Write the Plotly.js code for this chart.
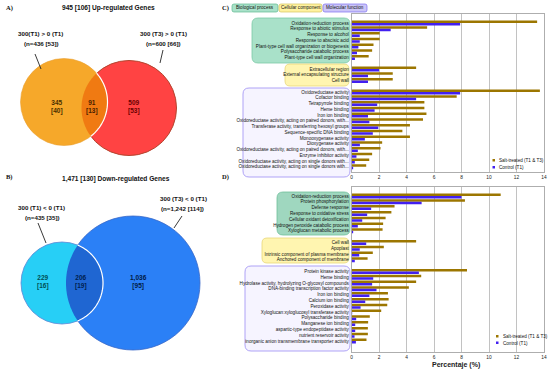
<!DOCTYPE html>
<html><head><meta charset="utf-8">
<script src="https://cdn.plot.ly/plotly-3.0.1.min.js"></script>
<style>html,body{margin:0;padding:0;background:#fff}#chart{width:550px;height:372px}</style>
</head><body><div id="chart"></div>
<script>
// ---------- Panel C data ----------
const cCategories = ['Oxidation-reduction process','Response to abiotic stimulus','Response to alcohol','Response to abscisic acid','Plant-type cell wall organization or biogenesis','Polysaccharide catabolic process','Plant-type cell wall organization',
'Extracellular region','External encapsulating structure','Cell wall',
'Oxidoreductase activity','Cofactor binding','Tetrapyrrole binding','Heme binding','Iron ion binding','Oxidoreductase activity, acting on paired donors, with...','Transferase activity, transferring hexosyl groups','Sequence-specific DNA binding','Monooxygenase activity','Dioxygenase activity','Oxidoreductase activity, acting on paired donors, with...','Enzyme inhibitor activity','Oxidoreductase activity, acting on single donors with...','Oxidoreductase activity, acting on single donors with...'];
const cGroups = [7, 3, 14];
const cSalt = [13.5,5.5,2.05,2.05,1.6,1.5,1.25, 4.7,3.0,3.0, 13.7,7.65,5.3,5.3,5.45,5.2,4.25,3.7,4.25,2.23,2.11,1.5,1.29,1.07];
const cControl = [7.9,2.85,0.6,0.6,0.5,0.4,0.25, 2.0,1.2,1.2, 7.9,4.7,1.87,1.68,1.2,1.3,1.95,1.55,0.97,0.61,0.46,0.36,0.24,0.12];

// ---------- Panel D data ----------
const dCategories = ['Oxidation-reduction process','Protein phosphorylation','Defense response','Response to oxidative stress','Cellular oxidant detoxification','Hydrogen peroxide catabolic process','Xyloglucan metabolic process',
'Cell wall','Apoplast','Intrinsic component of plasma membrane','Anchored component of membrane',
'Protein kinase activity','Heme binding','Hydrolase activity, hydrolyzing O-glycosyl compounds','DNA-binding transcription factor activity','Iron ion binding','Calcium ion binding','Peroxidase activity','Xyloglucan:xyloglucosyl transferase activity','Polysaccharide binding','Manganese ion binding','aspartic-type endopeptidase activity','nutrient reservoir activity','inorganic anion transmembrane transporter activity'];
const dGroups = [7, 4, 13];
const dSalt = [10.85,8.25,3.13,2.9,2.48,2.3,2.26, 4.7,2.35,1.55,1.17, 8.4,5.07,4.7,4.17,2.65,2.7,2.6,2.16,1.33,1.21,1.19,1.19,1.09];
const dControl = [8.0,5.1,1.43,1.14,0.78,0.46,0.12, 1.07,0.6,0.56,0.24, 4.9,1.58,1.5,1.82,1.3,1.0,0.66,0.05,0.34,0.27,0.27,0.22,0.32];

const seriesNames = ['Salt-treated (T1 & T3)', 'Control (T1)'];
const groupNames = ['Biological process', 'Cellular component', 'Molecular function'];
const xTickVals = [0, 2, 4, 6, 8, 10, 12, 14];
const xTitle = 'Percentaje (%)';

// ---------- Venn data ----------
const vennUpTitle = '945 [106] Up-regulated Genes';
const vennUpSets = ['300(T1) > 0 (T1)', '300 (T3) > 0 (T1)'];
const vennUpTotals = ['(n=436 [53])', '(n=600 [66])'];
const vennUpCounts = ['345', '91', '509'];
const vennUpSub = ['[40]', '[13]', '[53]'];
const vennDownTitle = '1,471 [130] Down-regulated Genes';
const vennDownSets = ['300 (T1) < 0 (T1)', '300 (T3) < 0 (T1)'];
const vennDownTotals = ['(n=435 [35])', '(n=1,242 [114])'];
const vennDownCounts = ['229', '206', '1,036'];
const vennDownSub = ['[16]', '[19]', '[95]'];

// ---------- helpers ----------
const W = 550, H = 372;
const px = x => x / W, py = y => 1 - y / H;
function rowPos(groups){ const p=[]; let i=0; groups.forEach(n=>{ for(let k=0;k<n;k++) p.push(i++); i++; }); return p; }
function rr(x0,y0,x1,y1,r){
  const P=(x,y)=>px(x)+','+py(y);
  return 'M'+P(x0+r,y0)+' L'+P(x1-r,y0)+' Q'+P(x1,y0)+' '+P(x1,y0+r)+' L'+P(x1,y1-r)+' Q'+P(x1,y1)+' '+P(x1-r,y1)+
    ' L'+P(x0+r,y1)+' Q'+P(x0,y1)+' '+P(x0,y1-r)+' L'+P(x0,y0+r)+' Q'+P(x0,y0)+' '+P(x0+r,y0)+' Z';
}
function lens(c1,c2,n){
  const dx=c2.x-c1.x, dy=c2.y-c1.y, d=Math.hypot(dx,dy);
  const a=(c1.r*c1.r-c2.r*c2.r+d*d)/(2*d);
  const phi=Math.atan2(dy,dx), a1=Math.acos(a/c1.r), a2=Math.acos((d-a)/c2.r);
  const pts=[], arc1=[];
  for(let i=0;i<=n;i++){ const t=phi-a1+2*a1*i/n; const q=[c1.x+c1.r*Math.cos(t), c1.y+c1.r*Math.sin(t)]; pts.push(q); arc1.push(q); }
  for(let i=0;i<=n;i++){ const t=phi+Math.PI-a2+2*a2*i/n; pts.push([c2.x+c2.r*Math.cos(t), c2.y+c2.r*Math.sin(t)]); }
  const toPath=(arr,close)=>'M'+arr.map(p=>p[0].toFixed(2)+','+p[1].toFixed(2)).join(' L')+(close?' Z':'');
  return {fill: toPath(pts,true), arc: toPath(arc1,false)};
}
function circ(c, fill, line, lw){
  return {type:'circle', xref:'x2', yref:'y2', x0:c.x-c.r, x1:c.x+c.r, y0:c.y-c.r, y1:c.y+c.r,
    fillcolor:fill, line:{color:line, width:lw}, layer:'above'};
}

const SALT='#9C7600', CTRL='#4220F0';
const labelFont = {family:'Liberation Sans Narrow, Liberation Sans, Arial, sans-serif', size:4.6, color:'#111'};
const cPos = rowPos(cGroups), dPos = rowPos(dGroups);

const traces = [
  {type:'bar', orientation:'h', name:seriesNames[0], x:cSalt, y:cPos, xaxis:'x', yaxis:'y', marker:{color:SALT}, showlegend:false, hoverinfo:'skip'},
  {type:'bar', orientation:'h', name:seriesNames[1], x:cControl, y:cPos, xaxis:'x', yaxis:'y', marker:{color:CTRL}, showlegend:false, hoverinfo:'skip'},
  {type:'bar', orientation:'h', name:seriesNames[0], x:dSalt, y:dPos, xaxis:'x3', yaxis:'y3', marker:{color:SALT}, showlegend:false, hoverinfo:'skip'},
  {type:'bar', orientation:'h', name:seriesNames[1], x:dControl, y:dPos, xaxis:'x3', yaxis:'y3', marker:{color:CTRL}, showlegend:false, hoverinfo:'skip'}
];

const xCommon = {range:[0,14], tickvals:xTickVals, ticktext:xTickVals.map(String), showgrid:true, gridcolor:'#a8a8a8', gridwidth:0.7,
  showline:true, linecolor:'#9a9a9a', linewidth:0.8, mirror:true, ticks:'', zeroline:false,
  tickfont:{family:'Liberation Sans, Arial, sans-serif', size:4.8, color:'#222'}, automargin:false};
const yCommon = {showgrid:false, showline:true, linecolor:'#9a9a9a', linewidth:0.8, mirror:true, ticks:'', zeroline:false,
  tickfont:labelFont, automargin:false, ticklabelstandoff:1};

// Venn geometry (pixel units through the hidden x2/y2 axes)
const oA = {x:64, y:102, r:43.5}, rA = {x:129, y:108, r:47.5};
const cB = {x:62, y:283, r:41}, bB = {x:133, y:283, r:67};
const lensA = lens(oA, rA, 60), lensB = lens(cB, bB, 60);

const shapes = [
  // category boxes panel C
  {type:'path', xref:'paper', yref:'paper', path:rr(252,18,350,63,6), fillcolor:'#a9e1c9', line:{color:'#7cc9a6',width:0.8}, layer:'below'},
  {type:'path', xref:'paper', yref:'paper', path:rr(285,64,349,86,5), fillcolor:'#fff5b0', line:{color:'#e8d77a',width:0.8}, layer:'below'},
  {type:'path', xref:'paper', yref:'paper', path:rr(243,88,350,177,6), fillcolor:'#f6f4ff', line:{color:'#a698f5',width:0.9}, layer:'below'},
  // category boxes panel D
  {type:'path', xref:'paper', yref:'paper', path:rr(277,192,350,235,6), fillcolor:'#9fd7bf', line:{color:'#6fbf9b',width:0.8}, layer:'below'},
  {type:'path', xref:'paper', yref:'paper', path:rr(262,238,349,263,5), fillcolor:'#fff5b0', line:{color:'#e8d77a',width:0.8}, layer:'below'},
  {type:'path', xref:'paper', yref:'paper', path:rr(245,266,350,351,6), fillcolor:'#f6f4ff', line:{color:'#a698f5',width:0.9}, layer:'below'},
  // group legend boxes
  {type:'path', xref:'paper', yref:'paper', path:rr(232,4,278,12,2), fillcolor:'#a9e1c9', line:{color:'#5fb98f',width:0.7}, layer:'below'},
  {type:'path', xref:'paper', yref:'paper', path:rr(279,4,322,12,2), fillcolor:'#fff2a0', line:{color:'#d6c45c',width:0.7}, layer:'below'},
  {type:'path', xref:'paper', yref:'paper', path:rr(323,4,367,12,2), fillcolor:'#cbc5f7', line:{color:'#7d6ff0',width:0.7}, layer:'below'},
  // legend swatches
  {type:'rect', xref:'paper', yref:'paper', x0:px(492.5), x1:px(495), y0:py(161.5), y1:py(159), fillcolor:SALT, line:{width:0}},
  {type:'rect', xref:'paper', yref:'paper', x0:px(492.5), x1:px(495), y0:py(168.5), y1:py(166), fillcolor:CTRL, line:{width:0}},
  {type:'rect', xref:'paper', yref:'paper', x0:px(496), x1:px(498.5), y0:py(337.5), y1:py(335), fillcolor:SALT, line:{width:0}},
  {type:'rect', xref:'paper', yref:'paper', x0:px(496), x1:px(498.5), y0:py(344), y1:py(341.5), fillcolor:CTRL, line:{width:0}},
  // Venn A
  circ(rA, '#ff4343', '#b4452f', 1),
  circ(oA, '#f6a82a', '#eaa030', 0.6),
  {type:'path', xref:'x2', yref:'y2', path:lensA.fill, fillcolor:'#f07a12', line:{width:0}, layer:'above'},
  {type:'path', xref:'x2', yref:'y2', path:lensA.arc, line:{color:'#ffffff', width:1.2}, layer:'above'},
  // Venn B
  circ(bB, '#2b80f6', '#3a68c8', 0.8),
  circ(cB, '#27cff6', '#5a86d6', 0.8),
  {type:'path', xref:'x2', yref:'y2', path:lensB.fill, fillcolor:'#1f66d2', line:{width:0}, layer:'above'},
  {type:'path', xref:'x2', yref:'y2', path:lensB.arc, line:{color:'#ffffff', width:1.2}, layer:'above'},
  // leader lines
  {type:'line', xref:'x2', yref:'y2', x0:35, y0:54, x1:41, y1:69, line:{color:'#222', width:0.9}, layer:'above'},
  {type:'line', xref:'x2', yref:'y2', x0:163, y0:50, x1:160, y1:63, line:{color:'#222', width:0.9}, layer:'above'},
  {type:'line', xref:'x2', yref:'y2', x0:38, y0:223, x1:46, y1:243, line:{color:'#222', width:0.9}, layer:'above'},
  {type:'line', xref:'x2', yref:'y2', x0:182, y0:216, x1:174, y1:228, line:{color:'#222', width:0.9}, layer:'above'}
];

const bold = s => '<b>'+s+'</b>';
const arial = (size,color)=>({family:'Liberation Sans, Arial, sans-serif', size:size, color:color||'#111'});
const serif = {family:'Liberation Serif, Times New Roman, serif', size:6.5, color:'#111'};
function vA(x,y,text,font,xa){ return {xref:'x2', yref:'y2', x:x, y:y, text:text, showarrow:false, font:font, xanchor:xa||'center', yanchor:'middle'}; }
function pA(x,y,text,font,xa){ return {xref:'paper', yref:'paper', x:px(x), y:py(y), text:text, showarrow:false, font:font, xanchor:xa||'center', yanchor:'middle'}; }

const annotations = [
  pA(4,8,bold('A)'),serif,'left'), pA(4,177,bold('B)'),serif,'left'),
  pA(220,8,bold('C)'),serif,'left'), pA(220,177,bold('D)'),serif,'left'),
  vA(108,8,bold(vennUpTitle),arial(6.6)),
  vA(40,33,bold(vennUpSets[0]),arial(6.2)), vA(41,43,bold(vennUpTotals[0]),arial(6.2)),
  vA(163,33,bold(vennUpSets[1]),arial(6.2)), vA(163,43,bold(vennUpTotals[1]),arial(6.2)),
  vA(57,106.5,bold(vennUpCounts[0]+'<br>'+vennUpSub[0]),arial(6.5,'#4a2f00')),
  vA(92,106.5,bold(vennUpCounts[1]+'<br>'+vennUpSub[1]),arial(6.5,'#4a1e00')),
  vA(134,106.5,bold(vennUpCounts[2]+'<br>'+vennUpSub[2]),arial(6.5,'#6a0000')),
  vA(116,179,bold(vennDownTitle),arial(6.6)),
  vA(41,207,bold(vennDownSets[0]),arial(6.2)), vA(42,217,bold(vennDownTotals[0]),arial(6.2)),
  vA(183,198,bold(vennDownSets[1]),arial(6.2)), vA(182,208,bold(vennDownTotals[1]),arial(6.2)),
  vA(43,281.5,bold(vennDownCounts[0]+'<br>'+vennDownSub[0]),arial(6.5,'#004f55')),
  vA(81,281.5,bold(vennDownCounts[1]+'<br>'+vennDownSub[1]),arial(6.5,'#00204f')),
  vA(138,281.5,bold(vennDownCounts[2]+'<br>'+vennDownSub[2]),arial(6.5,'#001a45')),
  pA(255,8,groupNames[0],labelFont), pA(300.5,8,groupNames[1],labelFont), pA(345,8,groupNames[2],labelFont),
  pA(497,160,seriesNames[0],labelFont,'left'), pA(497,167,seriesNames[1],labelFont,'left'),
  pA(500.5,336,seriesNames[0],labelFont,'left'), pA(500.5,343,seriesNames[1],labelFont,'left'),
  pA(456,365,bold(xTitle),arial(7,'#222'))
];

const layout = {
  width:W, height:H, margin:{l:0,r:0,t:0,b:0,pad:0},
  paper_bgcolor:'#fff', plot_bgcolor:'rgba(0,0,0,0)', showlegend:false,
  barmode:'group', bargap:0.14, bargroupgap:0,
  xaxis: Object.assign({}, xCommon, {domain:[px(351.5), px(544)], anchor:'y'}),
  yaxis: Object.assign({}, yCommon, {domain:[py(172), py(14)], anchor:'x', range:[25.9,-1.56], tickvals:cPos, ticktext:cCategories}),
  xaxis3: Object.assign({}, xCommon, {domain:[px(351.5), px(544)], anchor:'y3'}),
  yaxis3: Object.assign({}, yCommon, {domain:[py(352), py(187)], anchor:'x3', range:[26.9,-1.55], tickvals:dPos, ticktext:dCategories}),
  xaxis2: {domain:[0,0.5], range:[0,275], visible:false, fixedrange:true, anchor:'y2'},
  yaxis2: {domain:[0,1], range:[372,0], visible:false, fixedrange:true, anchor:'x2'},
  shapes:shapes, annotations:annotations
};
Plotly.newPlot('chart', traces, layout, {displayModeBar:false, staticPlot:true});
</script></body></html>
